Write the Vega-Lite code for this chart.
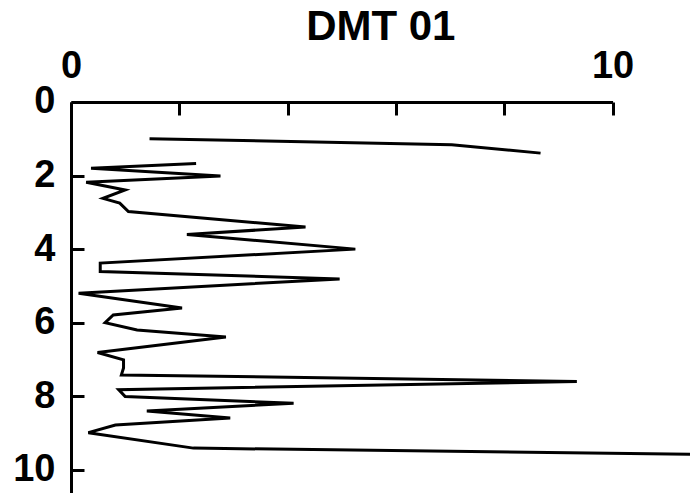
{
  "$schema": "https://vega.github.io/schema/vega-lite/v6.json",
  "autosize": "none",
  "padding": {"left": 71, "top": 102, "right": 78, "bottom": 0},
  "width": 541.6,
  "height": 404.6,
  "title": {
    "text": "DMT 01",
    "font": "Liberation Sans",
    "fontSize": 42,
    "fontWeight": "bold",
    "color": "black",
    "anchor": "middle",
    "dx": 39,
    "dy": 5
  },
  "data": {
    "values": [
      {"seg": "a", "i": 1, "x": 1.45, "depth": 1.0},
      {"seg": "a", "i": 2, "x": 7.03, "depth": 1.16},
      {"seg": "a", "i": 3, "x": 8.67, "depth": 1.39},
      {"seg": "b", "i": 4, "x": 2.31, "depth": 1.67},
      {"seg": "b", "i": 5, "x": 0.37, "depth": 1.8},
      {"seg": "b", "i": 6, "x": 2.76, "depth": 2.01},
      {"seg": "b", "i": 7, "x": 0.28, "depth": 2.18},
      {"seg": "b", "i": 8, "x": 1.0, "depth": 2.39},
      {"seg": "b", "i": 9, "x": 0.59, "depth": 2.62},
      {"seg": "b", "i": 10, "x": 0.9, "depth": 2.75},
      {"seg": "b", "i": 11, "x": 1.06, "depth": 2.98},
      {"seg": "b", "i": 12, "x": 4.33, "depth": 3.4},
      {"seg": "b", "i": 13, "x": 2.14, "depth": 3.6},
      {"seg": "b", "i": 14, "x": 5.25, "depth": 4.0},
      {"seg": "b", "i": 15, "x": 0.54, "depth": 4.38},
      {"seg": "b", "i": 16, "x": 0.54, "depth": 4.61},
      {"seg": "b", "i": 17, "x": 4.96, "depth": 4.81},
      {"seg": "b", "i": 18, "x": 0.14, "depth": 5.2},
      {"seg": "b", "i": 19, "x": 2.05, "depth": 5.6},
      {"seg": "b", "i": 20, "x": 0.78, "depth": 5.79},
      {"seg": "b", "i": 21, "x": 0.63, "depth": 6.0},
      {"seg": "b", "i": 22, "x": 1.22, "depth": 6.2},
      {"seg": "b", "i": 23, "x": 2.86, "depth": 6.39},
      {"seg": "b", "i": 24, "x": 0.49, "depth": 6.81},
      {"seg": "b", "i": 25, "x": 0.97, "depth": 7.01},
      {"seg": "b", "i": 26, "x": 0.97, "depth": 7.23},
      {"seg": "b", "i": 27, "x": 0.93, "depth": 7.42},
      {"seg": "b", "i": 28, "x": 9.34, "depth": 7.6},
      {"seg": "b", "i": 29, "x": 0.88, "depth": 7.82},
      {"seg": "b", "i": 30, "x": 1.0, "depth": 8.01},
      {"seg": "b", "i": 31, "x": 4.11, "depth": 8.19},
      {"seg": "b", "i": 32, "x": 1.4, "depth": 8.4},
      {"seg": "b", "i": 33, "x": 2.94, "depth": 8.59},
      {"seg": "b", "i": 34, "x": 0.82, "depth": 8.78},
      {"seg": "b", "i": 35, "x": 0.32, "depth": 8.99},
      {"seg": "b", "i": 36, "x": 2.26, "depth": 9.41},
      {"seg": "b", "i": 37, "x": 12.0, "depth": 9.59}
    ]
  },
  "mark": {"type": "line", "color": "black", "strokeWidth": 3, "strokeJoin": "miter", "strokeMiterLimit": 4},
  "encoding": {
    "x": {
      "field": "x",
      "type": "quantitative",
      "scale": {"domain": [0, 10], "nice": false, "zero": false},
      "axis": {
        "orient": "top",
        "title": null,
        "grid": false,
        "values": [0, 2, 4, 6, 8, 10],
        "labelExpr": "datum.value == 0 || datum.value == 10 ? datum.label : ''",
        "labelFlush": false,
        "labelOverlap": false,
        "labelFont": "Liberation Sans",
        "labelFontSize": 38,
        "labelFontWeight": "bold",
        "labelColor": "black",
        "labelPadding": 29,
        "tickSize": -13,
        "tickWidth": 3,
        "tickColor": "black",
        "domainColor": "black",
        "domainWidth": 3
      }
    },
    "y": {
      "field": "depth",
      "type": "quantitative",
      "scale": {"domain": [0, 11], "reverse": true, "nice": false, "zero": false},
      "axis": {
        "title": null,
        "grid": false,
        "values": [0, 2, 4, 6, 8, 10],
        "labelOverlap": false,
        "labelFlush": false,
        "labelFont": "Liberation Sans",
        "labelFontSize": 38,
        "labelFontWeight": "bold",
        "labelColor": "black",
        "labelPadding": 29,
        "tickSize": -13,
        "tickWidth": 3,
        "tickColor": "black",
        "domainColor": "black",
        "domainWidth": 3
      }
    },
    "detail": {"field": "seg"},
    "order": {"field": "i"}
  },
  "config": {"view": {"stroke": null}}
}
